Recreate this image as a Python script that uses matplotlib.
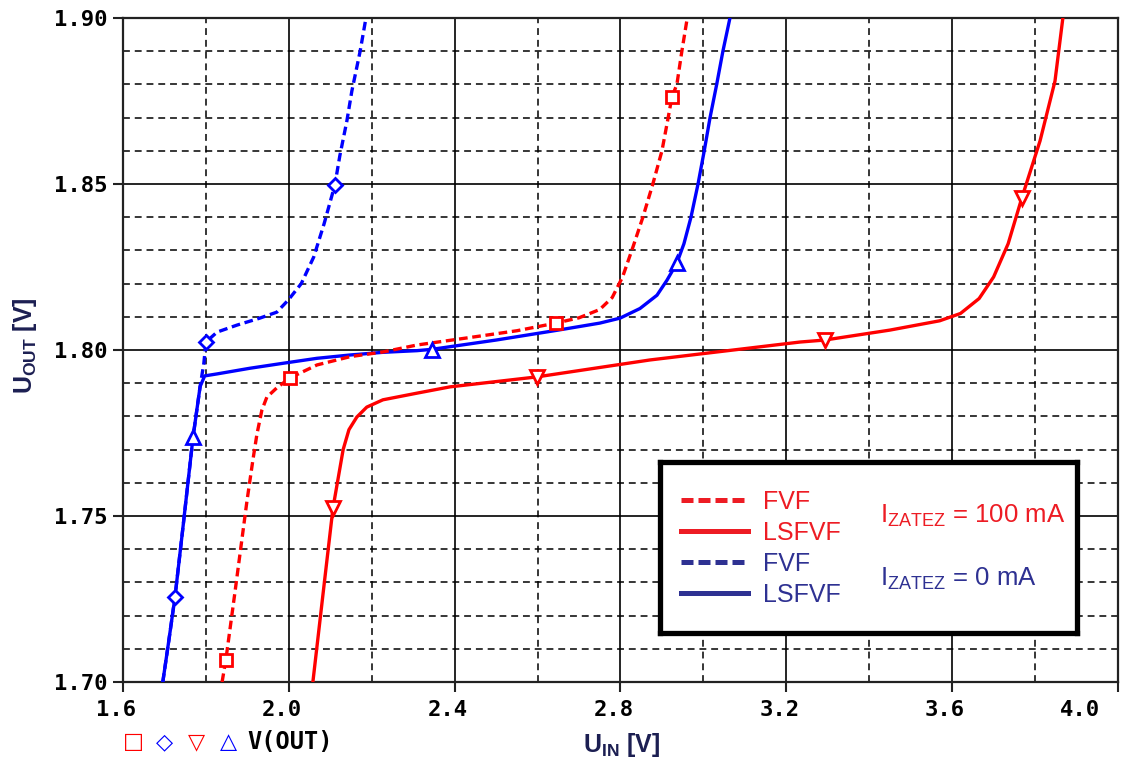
import matplotlib
matplotlib.use("Agg")
import matplotlib.pyplot as plt
from matplotlib.lines import Line2D
from matplotlib.transforms import ScaledTranslation
import numpy as np

# ---- data (U_IN [V] -> U_OUT [V]) ----
# FVF, I_load = 100 mA (red dashed, squares)
fvf100_x = [1.839, 1.848, 1.870, 1.899, 1.913, 1.923, 1.935, 1.947, 1.971, 1.990, 2.003,
            2.068, 2.148, 2.227, 2.309, 2.45, 2.55, 2.644, 2.70, 2.750, 2.780, 2.805, 2.830,
            2.854, 2.878, 2.900, 2.915, 2.924, 2.936, 2.948, 2.961]
fvf100_y = [1.700, 1.7066, 1.727, 1.7545, 1.7666, 1.7746, 1.7819, 1.7858, 1.7886, 1.7904, 1.7916,
            1.7955, 1.798, 1.7994, 1.8015, 1.8040, 1.8058, 1.8081, 1.8097, 1.8122, 1.8158, 1.822, 1.831,
            1.840, 1.850, 1.860, 1.870, 1.8762, 1.880, 1.890, 1.900]
fvf100_mx = [1.848, 2.003, 2.644, 2.924]
fvf100_my = [1.7066, 1.7916, 1.8081, 1.8762]

# LSFVF, I_load = 100 mA (red solid, down triangles)
lsfvf100_x = [2.058, 2.082, 2.1065, 2.131, 2.145, 2.164, 2.188, 2.227, 2.309, 2.389, 2.5985,
              2.871, 3.233, 3.293, 3.45, 3.57, 3.62, 3.665, 3.70, 3.735, 3.768, 3.812, 3.848, 3.867]
lsfvf100_y = [1.700, 1.726, 1.7524, 1.770, 1.776, 1.7798, 1.7828, 1.785, 1.787, 1.7889, 1.7919,
              1.797, 1.8024, 1.803, 1.806, 1.8088, 1.811, 1.8155, 1.822, 1.832, 1.8458, 1.863, 1.881, 1.900]
lsfvf100_mx = [2.1065, 2.5985, 3.293, 3.768]
lsfvf100_my = [1.7524, 1.7919, 1.803, 1.8458]

# FVF, I_load = 0 mA (blue dashed, diamonds)
fvf0_x = [1.696, 1.710, 1.7254, 1.745, 1.769, 1.786, 1.795, 1.800, 1.827, 1.875, 1.930,
          1.971, 1.999, 2.030, 2.060, 2.085, 2.111, 2.123, 2.140, 2.152, 2.172, 2.186]
fvf0_y = [1.700, 1.712, 1.7256, 1.747, 1.7738, 1.789, 1.796, 1.8024, 1.8054, 1.8075, 1.8096,
          1.8114, 1.8151, 1.820, 1.828, 1.838, 1.8497, 1.8585, 1.869, 1.878, 1.890, 1.900]
fvf0_mx = [1.7254, 1.800, 2.111]
fvf0_my = [1.7256, 1.8024, 1.8497]

# LSFVF, I_load = 0 mA (blue solid, up triangles)
lsfvf0_x = [1.696, 1.710, 1.7254, 1.745, 1.769, 1.786, 1.797, 1.827, 1.906, 1.986, 2.068,
            2.148, 2.227, 2.309, 2.345, 2.50, 2.65, 2.750, 2.799, 2.847, 2.888, 2.912, 2.936,
            2.953, 2.970, 2.987, 3.002, 3.016, 3.032, 3.047, 3.064]
lsfvf0_y = [1.700, 1.712, 1.7256, 1.747, 1.7738, 1.789, 1.7922, 1.7928, 1.7945, 1.796, 1.7975,
            1.7985, 1.7993, 1.7998, 1.8002, 1.803, 1.806, 1.8081, 1.8096, 1.8125, 1.8165, 1.821, 1.8262,
            1.832, 1.840, 1.850, 1.860, 1.870, 1.880, 1.890, 1.900]
lsfvf0_mx = [1.769, 2.345, 2.936]
lsfvf0_my = [1.7738, 1.800, 1.8262]

legend_labels = ["FVF", "LSFVF", "FVF", "LSFVF"]

RED = "#ff0000"
BLUE = "#0000ff"
LRED = "#ed1c24"
LBLUE = "#2e3192"
LABEL_C = "#1c1f52"

plt.rcParams["mathtext.fontset"] = "custom"
plt.rcParams["mathtext.rm"] = "Liberation Sans"
plt.rcParams["mathtext.bf"] = "Liberation Sans:bold"

W, H = 1122, 760
fig = plt.figure(figsize=(W / 100, H / 100), dpi=100)
ax = fig.add_axes([123 / W, 1 - 682 / H, (1118 - 123) / W, (682 - 18) / H])

dash = (0, (2.6, 1.4))
ax.plot(lsfvf0_x, lsfvf0_y, "-", color=BLUE, lw=2.4, zorder=3)
ax.plot(fvf0_x, fvf0_y, linestyle=dash, color=BLUE, lw=2.4, zorder=3)
ax.plot(lsfvf100_x, lsfvf100_y, "-", color=RED, lw=2.4, zorder=3)
ax.plot(fvf100_x, fvf100_y, linestyle=dash, color=RED, lw=2.4, zorder=4)

mk = dict(ls="none", mfc="white", mew=2.0, zorder=5)
ax.plot(fvf100_mx, fvf100_my, marker="s", ms=8.5, mec=RED, **mk)
ax.plot(lsfvf100_mx, lsfvf100_my, marker="v", ms=9.5, mec=RED, **mk)
ax.plot(fvf0_mx, fvf0_my, marker="D", ms=7.5, mec=BLUE, **mk)
ax.plot(lsfvf0_mx, lsfvf0_my, marker="^", ms=9.5, mec=BLUE, **mk)

ax.set_xlim(1.6, 4.0)
ax.set_ylim(1.70, 1.90)
ax.set_xticks(np.arange(1.6, 4.01, 0.4))
ax.set_xticks(np.arange(1.8, 4.0, 0.4), minor=True)
ax.set_yticks(np.arange(1.70, 1.901, 0.05))
ax.set_yticks(np.arange(1.70, 1.90, 0.01), minor=True)
ax.set_xticklabels(["1.6", "2.0", "2.4", "2.8", "3.2", "3.6", "4.0"])
ax.set_yticklabels(["1.70", "1.75", "1.80", "1.85", "1.90"])

ax.grid(which="major", color="black", lw=1.2, ls="-", zorder=1)
ax.grid(which="minor", color="black", lw=1.1, ls=(0, (4.5, 3.2)), zorder=1)
ax.tick_params(which="major", direction="out", length=7, width=1.5, color="#222222",
               labelsize=16, pad=4)
ax.tick_params(which="minor", length=0)
ax.tick_params(axis="x", pad=6)
for lab in ax.get_xticklabels() + ax.get_yticklabels():
    lab.set_fontfamily("DejaVu Sans Mono")
    lab.set_fontweight("bold")
xl = ax.get_xticklabels()
for i, lab in enumerate(xl):
    dx = -38 if i == len(xl) - 1 else -7
    lab.set_transform(lab.get_transform() + ScaledTranslation(dx / 100, 0, fig.dpi_scale_trans))
for s in ax.spines.values():
    s.set_color("#222222")
    s.set_linewidth(1.6)

fig.text(622 / W, 1 - 745 / H, r"$\mathbf{U}_{\mathbf{IN}}$ [V]", fontsize=18, fontweight="bold",
         family="Liberation Sans", color=LABEL_C, ha="center", va="center")
fig.text(25 / W, 1 - 346 / H, r"$\mathbf{U}_{\mathbf{OUT}}$ [V]", fontsize=18, fontweight="bold",
         family="Liberation Sans", color=LABEL_C, ha="center", va="center", rotation=90)

# trace marker key at bottom left
for xp, ch, c in [(133, "\u25a1", RED), (165, "\u25c7", BLUE), (197, "\u25bd", RED), (228, "\u25b3", BLUE)]:
    fig.text(xp / W, 1 - 742 / H, ch, fontsize=16, color=c, ha="center", va="center",
             family="DejaVu Sans")
fig.text(247 / W, 1 - 742 / H, "V(OUT)", fontsize=17, fontweight="bold",
         family="DejaVu Sans Mono", ha="left", va="center")

# legend box
lax = fig.add_axes([660 / W, 1 - 633 / H, (1077 - 660) / W, (633 - 462) / H], zorder=10)
lax.set_xticks([])
lax.set_yticks([])
lax.set_facecolor("white")
for s in lax.spines.values():
    s.set_color("black")
    s.set_linewidth(3.8)
ldash = (0, (2.4, 1.0))
handles = [Line2D([], [], color=LRED, lw=3.6, ls=ldash),
           Line2D([], [], color=LRED, lw=3.6),
           Line2D([], [], color=LBLUE, lw=3.6, ls=ldash),
           Line2D([], [], color=LBLUE, lw=3.6)]
leg = lax.legend(handles, legend_labels, loc="upper left", bbox_to_anchor=(0.05, 0.835),
                 frameon=False, borderpad=0, borderaxespad=0, handlelength=2.7,
                 handletextpad=0.6, labelspacing=0.28,
                 prop={"family": "Liberation Sans", "size": 18})
for t, c in zip(leg.get_texts(), [LRED, LRED, LBLUE, LBLUE]):
    t.set_color(c)
lax.text(0.528, (633 - 516) / 171, r"I$_{\mathrm{ZATEZ}}$ = 100 mA", fontsize=18.5,
         family="Liberation Sans", color=LRED, ha="left", va="center", transform=lax.transAxes)
lax.text(0.528, (633 - 579) / 171, r"I$_{\mathrm{ZATEZ}}$ = 0 mA", fontsize=18.5,
         family="Liberation Sans", color=LBLUE, ha="left", va="center", transform=lax.transAxes)

fig.savefig("out.png", dpi=100)
